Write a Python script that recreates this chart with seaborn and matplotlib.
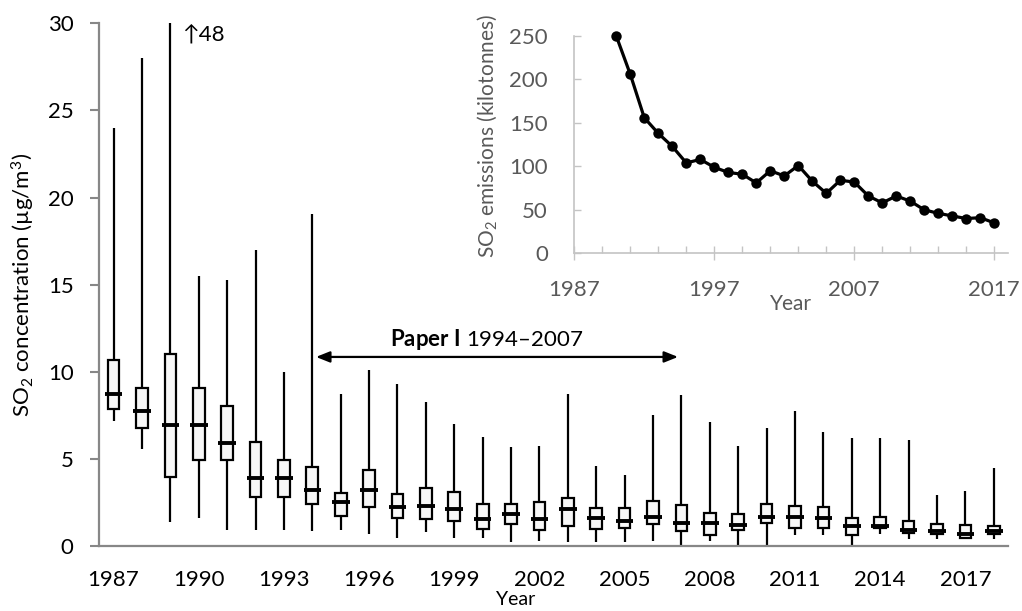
import numpy as np
import pandas as pd
import matplotlib
matplotlib.use("Agg")
import matplotlib.pyplot as plt
from matplotlib.ticker import FixedLocator
import seaborn as sns

# Annual SO2 concentration summaries (µg/m3): min, lower quartile, median, upper quartile, max
years = list(range(1987, 2019))
conc_min = [7.19, 5.59, 1.39, 1.59, 0.92, 0.92, 0.92, 0.86, 0.92, 0.69,
            0.44, 0.79, 0.44, 0.46, 0.23, 0.30, 0.23, 0.23, 0.23, 0.30,
            0.06, 0.30, 0.00, 0.00, 0.63, 0.63, 0.00, 0.69, 0.38, 0.38,
            0.38, 0.38]
conc_q1 = [7.85, 6.77, 3.94, 4.92, 4.92, 2.80, 2.80, 2.43, 1.72, 2.24,
           1.62, 1.55, 1.45, 0.96, 1.28, 0.94, 1.17, 0.96, 1.03, 1.26,
           0.88, 0.65, 0.90, 1.34, 1.05, 1.05, 0.65, 1.02, 0.76, 0.69,
           0.44, 0.69]
conc_median = [8.74, 7.77, 6.95, 6.95, 5.91, 3.92, 3.92, 3.21, 2.51, 3.23,
               2.26, 2.31, 2.12, 1.55, 1.85, 1.55, 2.12, 1.61, 1.44, 1.68,
               1.34, 1.34, 1.22, 1.68, 1.65, 1.61, 1.17, 1.17, 0.92, 0.88,
               0.71, 0.88]
conc_q3 = [10.68, 9.09, 11.02, 9.09, 8.04, 5.95, 4.94, 4.52, 3.04, 4.36,
           2.97, 3.35, 3.10, 2.43, 2.43, 2.51, 2.76, 2.20, 2.20, 2.58,
           2.35, 1.88, 1.82, 2.43, 2.28, 2.22, 1.61, 1.68, 1.44, 1.26,
           1.21, 1.17]
conc_max = [24.0, 28.0, 48.0, 15.5, 15.25, 17.0, 10.0, 19.06, 8.73, 10.1,
            9.28, 8.28, 6.99, 6.24, 5.68, 5.76, 8.74, 4.61, 4.08, 7.50,
            8.65, 7.14, 5.76, 6.76, 7.75, 6.53, 6.22, 6.22, 6.07, 2.93,
            3.16, 4.46]

# National SO2 emissions (kilotonnes)
emission_years = list(range(1990, 2018))
emissions = [250, 206, 156, 138, 123, 104, 108, 99, 93, 91,
             81, 95, 89, 101, 83, 69, 84, 82, 66, 58,
             66, 60, 50, 46, 43, 40, 41, 35]

period_start, period_end = 1994, 2007
clipped_year = 1989

sns.set_theme(style="white")
plt.rcParams["font.family"] = ["Lato", "DejaVu Sans"]
plt.rcParams["mathtext.fontset"] = "custom"
plt.rcParams["mathtext.rm"] = "Lato"
plt.rcParams["mathtext.it"] = "Lato:italic"
plt.rcParams["mathtext.bf"] = "Lato:bold"

# Expand each five-number summary into rows; with whis=(0, 100) seaborn
# reproduces exactly these quartiles and extremes.
rows = []
for yr, a, b, c, d, e in zip(years, conc_min, conc_q1, conc_median, conc_q3, conc_max):
    for v in (a, b, c, d, e):
        rows.append({"Year": str(yr), "SO2": v})
df = pd.DataFrame(rows)
order = [str(y) for y in years]

fig = plt.figure(figsize=(10.22, 6.11), dpi=100)
ax = fig.add_axes([0.0972, 0.1064, 0.8891, 0.8555])

axis_grey = "#878787"
sns.boxplot(data=df, x="Year", y="SO2", order=order, ax=ax, whis=(0, 100),
            width=0.41, color="#f7f7f7", saturation=1, linecolor="black",
            linewidth=1.6, showcaps=False, showfliers=False,
            medianprops=dict(linewidth=2.8, color="black"))

# Widen the median bars beyond the boxes
for cont in ax.containers:
    meds = getattr(cont, "medians", None)
    if meds is None:
        continue
    for med in meds:
        xd = np.asarray(med.get_xdata(), dtype=float)
        mid = xd.mean()
        med.set_xdata([mid - 0.31, mid + 0.31])

ax.set_ylim(0, 30)
ax.set_xlim(-0.5, len(years) - 0.5)
ax.set_yticks(range(0, 31, 5))
label_idx = list(range(0, len(years), 3))
ax.set_xticks(label_idx)
ax.set_xticklabels([str(years[i]) for i in label_idx])
ax.xaxis.set_minor_locator(FixedLocator(np.arange(-0.5, len(years), 1.0)))
ax.tick_params(axis="x", which="major", length=0, labelsize=16, pad=17,
               labelcolor="black")
ax.tick_params(axis="x", which="minor", length=5, width=1.5, color=axis_grey,
               direction="out")
ax.tick_params(axis="y", which="major", length=6.5, width=1.5, color=axis_grey,
               direction="out", labelsize=16, pad=12, labelcolor="black", left=True)
for side in ("top", "right"):
    ax.spines[side].set_visible(False)
for side in ("left", "bottom"):
    ax.spines[side].set_color(axis_grey)
    ax.spines[side].set_linewidth(1.6)

ax.set_ylabel(r"SO$_2$ concentration (µg/m$^3$)", fontsize=16, color="black")
ax.yaxis.set_label_coords(-0.084, 0.499)
ax.yaxis.label.set_verticalalignment("center")
ax.set_xlabel("Year", fontsize=14, color="black")
ax.xaxis.set_label_coords(0.4586, -0.102)
ax.xaxis.label.set_verticalalignment("center")

# Study period arrow and label
i0, i1 = years.index(period_start), years.index(period_end)
ax.annotate("", xy=(i0 + 0.13, 10.85), xytext=(i1 - 0.12, 10.85),
            arrowprops=dict(arrowstyle="<|-|>,head_length=0.55,head_width=0.22",
                            color="black", lw=1.6, shrinkA=0, shrinkB=0,
                            mutation_scale=15))
ax.text((i0 + i1) / 2 - 0.35, 11.83, r"$\mathbf{Paper\ I}$ 1994–2007",
        ha="center", va="center", fontsize=16, color="black")

# Off-scale maximum
ic = years.index(clipped_year)
ax.text(ic + 0.42, 29.35, "↑" + f"{conc_max[ic]:.0f}", ha="left", va="center",
        fontsize=16, color="black", family=["Lato", "DejaVu Sans"])

# Inset: emissions time series
ax2 = fig.add_axes([0.5619, 0.5854, 0.4247, 0.3557])
ax2.patch.set_alpha(0)
sns.lineplot(x=emission_years, y=emissions, ax=ax2, color="black",
             linewidth=2.3, marker="o", markersize=7.5, markeredgewidth=0,
             clip_on=False)
inset_grey = "#c4c4c4"
text_grey = "#595959"
ax2.set_xlim(1987, 2018)
ax2.set_ylim(0, 250)
ax2.set_xticks([1987, 1997, 2007, 2017])
ax2.xaxis.set_minor_locator(FixedLocator(np.arange(1987, 2018, 2)))
ax2.set_yticks(range(0, 251, 50))
ax2.tick_params(axis="x", which="major", direction="inout", length=10, width=1,
                color=inset_grey, labelsize=16, labelcolor=text_grey, pad=14,
                bottom=True)
ax2.tick_params(axis="x", which="minor", direction="in", length=5, width=1,
                color=inset_grey, bottom=True)
ax2.tick_params(axis="y", which="major", direction="in", length=5, width=1,
                color=inset_grey, labelsize=16, labelcolor=text_grey, pad=19,
                left=True)
for side in ("top", "right"):
    ax2.spines[side].set_visible(False)
for side in ("left", "bottom"):
    ax2.spines[side].set_color(inset_grey)
    ax2.spines[side].set_linewidth(1.2)
ax2.set_ylabel(r"SO$_2$ emissions (kilotonnes)", fontsize=15, color=text_grey)
ax2.yaxis.set_label_coords(-0.201, 0.54)
ax2.yaxis.label.set_verticalalignment("center")
ax2.set_xlabel("Year", fontsize=15, color=text_grey)
ax2.xaxis.set_label_coords(0.5, -0.235)
ax2.xaxis.label.set_verticalalignment("center")

fig.savefig("out.png", dpi=100)
